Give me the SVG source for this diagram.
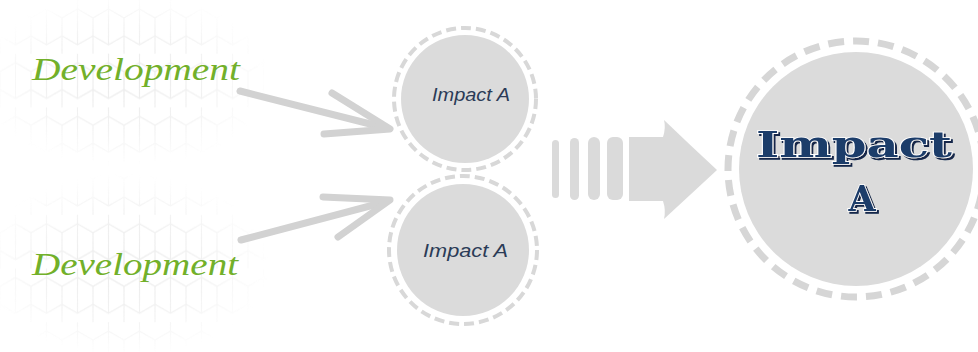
<svg xmlns="http://www.w3.org/2000/svg" width="978" height="352" viewBox="0 0 978 352">
<style>
.dev{font-family:"Liberation Serif","DejaVu Serif",serif;font-style:italic;font-size:32px;fill:#72b02a}
.small{font-family:"Liberation Sans","DejaVu Sans",sans-serif;font-style:italic;font-size:18px;fill:#2b3b57}
.big{font-family:"DejaVu Serif","Liberation Serif",serif;font-weight:bold;font-size:35px;text-anchor:middle;fill:#1e3c6a;stroke:#ffffff;stroke-width:1.6;paint-order:stroke;filter:url(#shadow)}
.ring{fill:none;stroke:#d8d8d8;stroke-width:4;stroke-dasharray:10 5}
.ringb{fill:none;stroke:#d6d6d6;stroke-width:7;stroke-dasharray:16 9}
.fill{fill:#dbdbdb}
.conn{fill:none;stroke:#d2d2d2;stroke-width:7;stroke-linecap:round;stroke-linejoin:round}
</style>
<defs>
<filter id="shadow" x="-10%" y="-20%" width="120%" height="150%">
<feOffset in="SourceAlpha" dx="2" dy="2" result="o"/>
<feFlood flood-color="#13264a"/>
<feComposite in2="o" operator="in" result="s"/>
<feMerge><feMergeNode in="s"/><feMergeNode in="SourceGraphic"/></feMerge>
</filter>
<pattern id="hex" patternUnits="userSpaceOnUse" width="31" height="53.7">
<path d="M0,-17.9 L15.5,-8.95 L15.5,8.95 L0,17.9 L-15.5,8.95 L-15.5,-8.95 Z M31,-17.9 L46.5,-8.95 L46.5,8.95 L31,17.9 L15.5,8.95 M15.5,8.95 L15.5,44.75 M0,17.9 L0,35.8 L15.5,44.75 L31,35.8 L31,17.9 M0,35.8 L-15.5,44.75 M31,35.8 L46.5,44.75 M0,35.8 L0,53.7 M31,35.8 L31,53.7" fill="none" stroke="#e3e3e3" stroke-width="1.2"/>
</pattern>
<radialGradient id="fade" cx="0.5" cy="0.5" r="0.5">
<stop offset="0" stop-color="#fff" stop-opacity="1"/>
<stop offset="0.6" stop-color="#fff" stop-opacity="0.6"/>
<stop offset="1" stop-color="#fff" stop-opacity="0"/>
</radialGradient>
<mask id="m1" maskUnits="userSpaceOnUse" x="0" y="0" width="978" height="352">
<ellipse cx="125" cy="80" rx="145" ry="88" fill="url(#fade)"/>
<ellipse cx="125" cy="265" rx="145" ry="92" fill="url(#fade)"/>
</mask>
</defs>
<rect width="978" height="352" fill="#ffffff"/>
<g id="background" mask="url(#m1)" opacity="0.75">
<rect x="0" y="0" width="290" height="352" fill="url(#hex)"/>
</g>
<g id="connectors">
<path class="conn" d="M240,91 L386,128"/>
<path class="conn" d="M332,93 L390,129 L324,134"/>
<path class="conn" d="M241,240 L385,202"/>
<path class="conn" d="M323,197 L390,200 L338,237"/>
<g id="big-arrow" fill="#dadada">
<rect x="552" y="140" width="7" height="58" rx="3.5"/>
<rect x="570" y="138" width="9" height="62" rx="4.5"/>
<rect x="588" y="137" width="12" height="63" rx="6"/>
<rect x="607" y="137" width="16" height="63" rx="6"/>
<path d="M629,137 L663,137 Q666,128 664,120 Q690,145 717,170 Q690,195 664,219 Q666,210 663,201 L629,201 Z"/>
</g>
</g>
<g id="dev1"><text class="dev" x="32" y="80" textLength="208" lengthAdjust="spacingAndGlyphs">Development</text></g>
<g id="dev2"><text class="dev" x="32" y="275" textLength="206" lengthAdjust="spacingAndGlyphs">Development</text></g>
<g id="impact-top">
<circle class="fill" cx="465" cy="99" r="64"/>
<circle class="ring" cx="465" cy="99" r="71"/>
<text class="small" x="432" y="101" textLength="78" lengthAdjust="spacingAndGlyphs">Impact A</text>
</g>
<g id="impact-bottom">
<circle class="fill" cx="463" cy="250" r="66"/>
<circle class="ring" cx="463" cy="250" r="74"/>
<text class="small" x="423" y="257" textLength="85" lengthAdjust="spacingAndGlyphs">Impact A</text>
</g>
<g id="impact-big">
<circle class="fill" cx="856" cy="169" r="117"/>
<circle class="ringb" cx="856" cy="169" r="128"/>
<text class="big" x="854" y="157" textLength="196" lengthAdjust="spacingAndGlyphs">Impact</text>
<text class="big" x="862" y="211">A</text>
</g>
</svg>
